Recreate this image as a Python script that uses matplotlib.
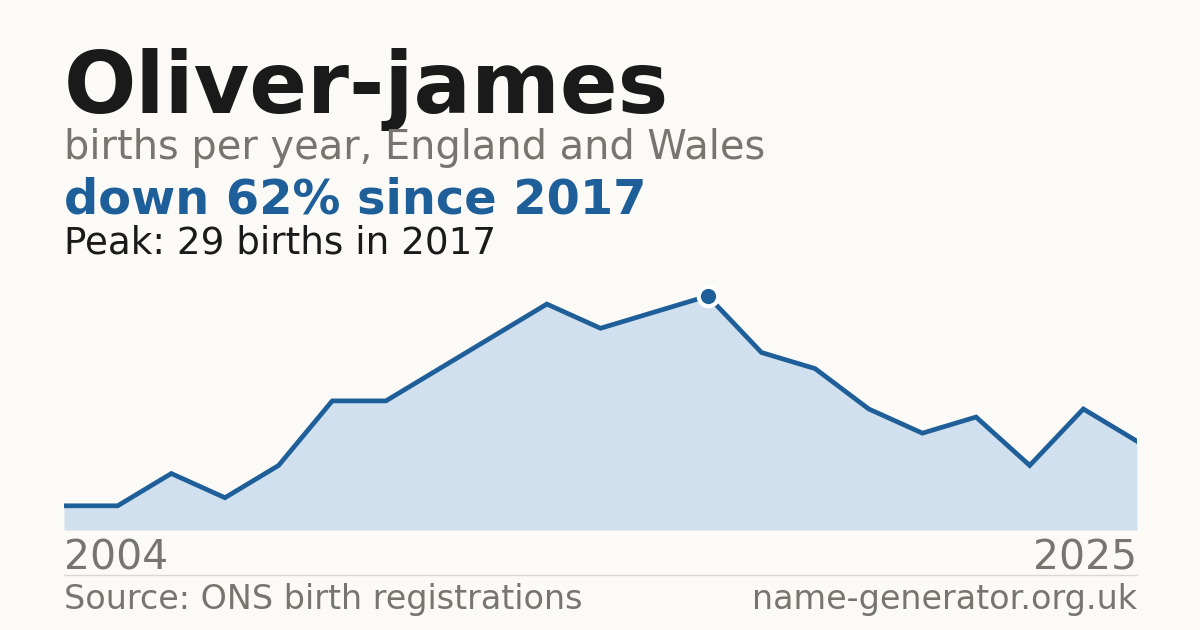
import matplotlib
matplotlib.use("Agg")
import matplotlib.pyplot as plt
import numpy as np

plt.rcParams['font.family'] = ['DejaVu Sans']

# data (one year missing between 2004 and 2017)
years = [2004, 2005, 2006, 2007, 2008, 2010, 2011, 2012, 2013, 2014, 2015,
         2016, 2017, 2018, 2019, 2020, 2021, 2022, 2023, 2024, 2025]
births = [3, 3, 7, 4, 8, 16, 16, 20, 24, 28, 25,
          27, 29, 22, 20, 15, 12, 14, 8, 15, 11]

name = "Oliver-james"
subtitle = "births per year, England and Wales"
source = "Source: ONS birth registrations"
site = "name-generator.org.uk"

bg = "#fbfaf6"
blue = "#1f5f99"
fill = "#d0e0ef"
grey = "#787570"
dark = "#1a1a1a"

W, H = 1200, 630
fig = plt.figure(figsize=(12, 6.3), dpi=100, facecolor=bg)

def fy(px):
    return 1 - px / H

peak_i = int(np.argmax(births))
peak = births[peak_i]
last = births[-1]
change = round((1 - last / peak) * 100)

fig.text(64 / W, fy(113), name, fontsize=61.4, fontweight="bold", color=dark, va="baseline")
fig.text(64 / W, fy(159), subtitle, fontsize=28.7, color=grey, va="baseline")
fig.text(64 / W, fy(214), "down %d%% since %d" % (change, years[peak_i]),
         fontsize=34.5, fontweight="bold", color=blue, va="baseline")
fig.text(64 / W, fy(253), "Peak: %d births in %d" % (peak, years[peak_i]),
         fontsize=26.8, color=dark, va="baseline")

# chart area
ax = fig.add_axes([64 / W, 100 / H, 1073 / W, 234 / H])
ax.set_facecolor("none")
x = np.arange(len(births))
ax.fill_between(x, 0, births, color=fill, lw=0)
ax.plot(x, births, color=blue, lw=3.4, solid_joinstyle="miter")
ax.axhline(0, color="#e8e1d5", lw=1)
ax.plot([peak_i], [peak], "o", ms=14, color=blue, mec="white", mew=3, clip_on=False, zorder=5)
ax.set_xlim(0, len(births) - 1)
ax.set_ylim(0, peak)
ax.axis("off")

fig.text(64 / W, fy(570), str(years[0]), fontsize=29.4, color=grey, va="baseline")
fig.text(1137 / W, fy(570), str(years[-1]), fontsize=29.4, color=grey, va="baseline", ha="right")

fig.add_artist(plt.Line2D([64 / W, 1137 / W], [fy(574.5), fy(574.5)], color="#dcd8cf", lw=1))

fig.text(64 / W, fy(609), source, fontsize=24.0, color=grey, va="baseline")
fig.text(1137 / W, fy(609), site, fontsize=24.0, color=grey, va="baseline", ha="right")

fig.savefig("out.png", dpi=100, facecolor=bg)
